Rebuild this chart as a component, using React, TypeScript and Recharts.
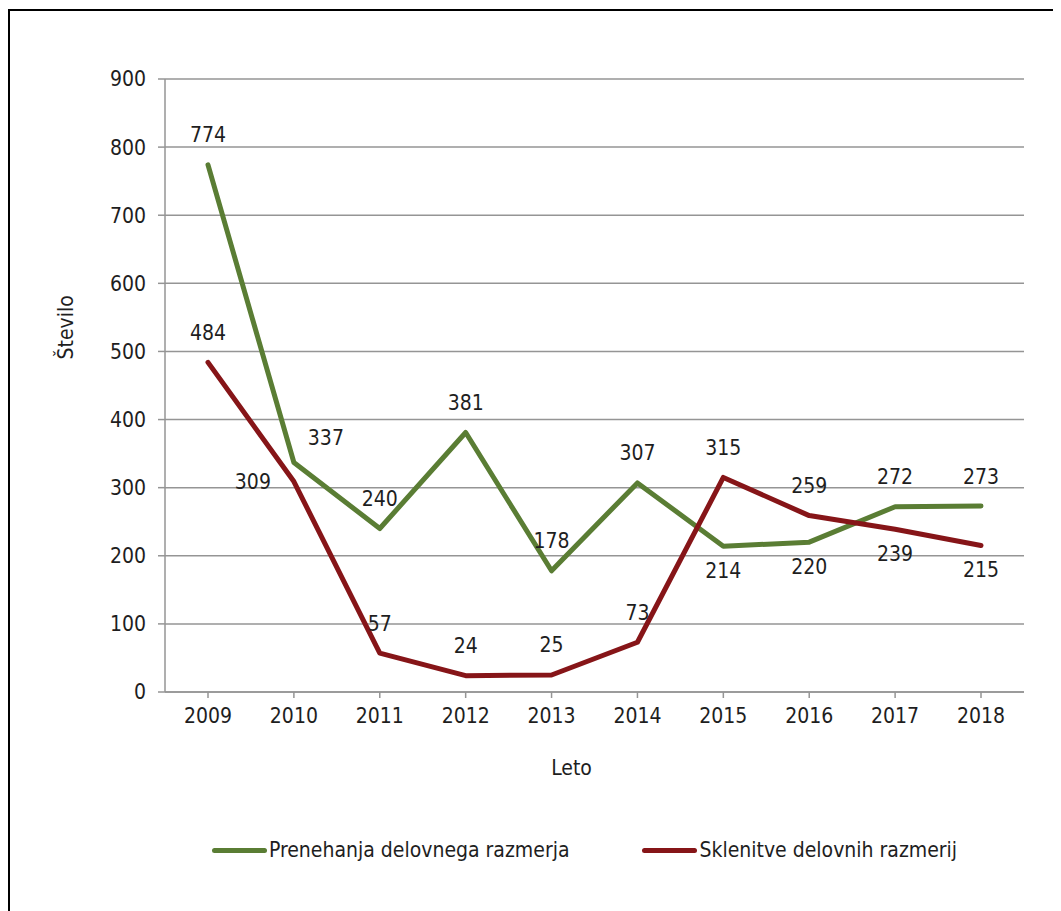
import { LineChart, Line, XAxis, YAxis, CartesianGrid, Legend, LabelList } from "recharts";

const years = ["2009", "2010", "2011", "2012", "2013", "2014", "2015", "2016", "2017", "2018"];
const prenehanja = [774, 337, 240, 381, 178, 307, 214, 220, 272, 273];
const sklenitve = [484, 309, 57, 24, 25, 73, 315, 259, 239, 215];
const yTicks = [0, 100, 200, 300, 400, 500, 600, 700, 800, 900];

// where each value label sits relative to its point
const greenPlace = ["top", "topRight", "top", "top", "top", "top", "bottom", "bottom", "top", "top"];
const redPlace = ["top", "left", "top", "top", "top", "top", "top", "top", "bottom", "bottom"];

const data = years.map((y, i) => ({ year: y, prenehanja: prenehanja[i], sklenitve: sklenitve[i] }));

const GREEN = "#5a7d34";
const RED = "#861518";
const GRID = "#959595";
const TEXT = "#1e1e1e";
const FONT = "'DejaVu Sans Condensed', 'DejaVu Sans', sans-serif";
const FS = 21;

const OFFSETS: Record<string, [number, number]> = {
  top: [0, -30],
  bottom: [0, 24],
  topRight: [32, -25],
  left: [-41, 0],
};

const makeLabel = (places: string[]) => (props: any) => {
  const { x, y, value, index } = props;
  const [dx, dy] = OFFSETS[places[index]] ?? [0, -30];
  return (
    <text x={x + dx} y={y + dy + 7.5} textAnchor="middle" fill={TEXT} fontSize={FS} fontFamily={FONT}>
      {value}
    </text>
  );
};

const LegendContent = () => (
  <div style={{ display: "flex", justifyContent: "center", alignItems: "center", gap: 73, paddingLeft: 115, fontFamily: FONT, fontSize: FS, color: TEXT, height: 30 }}>
    {[
      { name: "Prenehanja delovnega razmerja", color: GREEN },
      { name: "Sklenitve delovnih razmerij", color: RED },
    ].map((it) => (
      <div key={it.name} style={{ display: "flex", alignItems: "center" }}>
        <span style={{ display: "inline-block", width: 55, height: 5, borderRadius: 3, background: it.color, marginRight: 2 }} />
        <span>{it.name}</span>
      </div>
    ))}
  </div>
);

export default function App() {
  return (
    <div style={{ marginTop: 1, width: 1051, height: 900, borderLeft: "2px solid #000", borderTop: "2px solid #000", background: "#fff" }}>
      <LineChart width={1051} height={900} data={data} margin={{ top: 68, right: 37, bottom: 46, left: 20 }}>
        <CartesianGrid horizontal vertical={false} stroke={GRID} strokeWidth={1.5} />
        <XAxis
          dataKey="year"
          height={143}
          padding={{ left: 43, right: 43 }}
          stroke={GRID}
          strokeWidth={1.5}
          tickSize={6}
          tickMargin={10}
          tick={{ fill: TEXT, fontSize: FS, fontFamily: FONT }}
          label={{
            content: (p: any) => (
              <text x={p.viewBox.x + p.viewBox.width / 2 - 23} y={p.viewBox.y + 83} textAnchor="middle" fill={TEXT} fontSize={FS} fontFamily={FONT}>
                Leto
              </text>
            ),
          }}
        />
        <YAxis
          domain={[0, 900]}
          ticks={yTicks}
          width={135}
          stroke={GRID}
          strokeWidth={1.5}
          tickSize={7}
          tickMargin={12}
          tick={{ fill: TEXT, fontSize: FS, fontFamily: FONT }}
          label={{
            content: (p: any) => {
              const cx = p.viewBox.x + 36;
              const cy = p.viewBox.y + p.viewBox.height * 0.405;
              return (
                <text x={cx} y={cy} transform={`rotate(-90 ${cx} ${cy})`} dy={7.5} textAnchor="middle" fill={TEXT} fontSize={FS} fontFamily={FONT}>
                  Število
                </text>
              );
            },
          }}
        />
        <Legend verticalAlign="bottom" content={LegendContent} wrapperStyle={{ height: 30 }} />
        <Line
          dataKey="prenehanja"
          name="Prenehanja delovnega razmerja"
          stroke={GREEN}
          strokeWidth={5}
          dot={false}
          strokeLinecap="round"
          strokeLinejoin="round"
          isAnimationActive={false}
        >
          <LabelList dataKey="prenehanja" content={makeLabel(greenPlace)} />
        </Line>
        <Line
          dataKey="sklenitve"
          name="Sklenitve delovnih razmerij"
          stroke={RED}
          strokeWidth={5}
          dot={false}
          strokeLinecap="round"
          strokeLinejoin="round"
          isAnimationActive={false}
        >
          <LabelList dataKey="sklenitve" content={makeLabel(redPlace)} />
        </Line>
      </LineChart>
    </div>
  );
}
